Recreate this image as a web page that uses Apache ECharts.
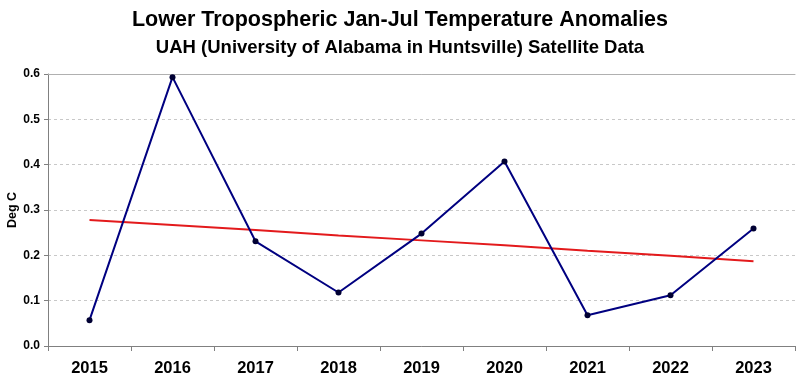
<!DOCTYPE html>
<html><head><meta charset="utf-8">
<script src="https://cdn.jsdelivr.net/npm/echarts@6/dist/echarts.min.js"></script>
<style>html,body{margin:0;padding:0;background:#fff}#c{width:800px;height:383px}</style>
</head><body><div id="c"></div>
<script>
const years = ['2015','2016','2017','2018','2019','2020','2021','2022','2023'];
const anomalies = [0.057, 0.593, 0.231, 0.118, 0.248, 0.407, 0.068, 0.112, 0.259];
const trend = [0.278, 0.267, 0.256, 0.244, 0.233, 0.222, 0.210, 0.199, 0.187];
const yTicks = [0, 0.1, 0.2, 0.3, 0.4, 0.5, 0.6];
const F = 'Liberation Sans, Arial, sans-serif';
const chart = echarts.init(document.getElementById('c'));
chart.setOption({
  animation: false,
  backgroundColor: '#fff',
  title: [
    {text: 'Lower Tropospheric Jan-Jul Temperature Anomalies', left: 'center', top: 4,
     textStyle: {fontFamily: F, fontWeight: 'bold', fontSize: 21.5, color: '#000'}},
    {text: 'UAH (University of Alabama in Huntsville) Satellite Data', left: 'center', top: 33,
     textStyle: {fontFamily: F, fontWeight: 'bold', fontSize: 18.5, color: '#000'}}
  ],
  graphic: [{
    type: 'text', x: 13, y: 210, rotation: Math.PI / 2,
    style: {text: 'Deg C', fontFamily: F, fontWeight: 'bold', fontSize: 12.5, fill: '#000',
      align: 'center', verticalAlign: 'middle'}
  }],
  grid: {left: 48, right: 5, top: 74, bottom: 37, outerBoundsMode: 'none', containLabel: false},
  xAxis: [{
    type: 'category', data: years, boundaryGap: true,
    axisLine: {lineStyle: {color: '#808080', width: 1}},
    axisTick: {show: true, alignWithLabel: false, length: 5, lineStyle: {color: '#808080'}},
    axisLabel: {fontFamily: F, fontWeight: 'bold', fontSize: 16.5, color: '#000', margin: 14},
    splitLine: {show: false}
  }, {
    type: 'category', data: years, position: 'top',
    axisLine: {show: true, lineStyle: {color: '#b0b0b0'}},
    axisTick: {show: false}, axisLabel: {show: false}
  }],
  yAxis: {
    type: 'value', min: 0, max: 0.6, interval: 0.1,
    axisLine: {show: true, lineStyle: {color: '#808080'}},
    axisTick: {show: true, length: 4, lineStyle: {color: '#808080'}},
    axisLabel: {fontFamily: F, fontWeight: 'bold', fontSize: 12, color: '#000', margin: 8,
      formatter: v => v.toFixed(1)},
    splitLine: {show: true, lineStyle: {color: '#c8c8c8', type: [3, 3], width: 1}}
  },
  series: [
    {type: 'line', data: trend, symbol: 'none',
     lineStyle: {color: '#e31a1c', width: 2}, z: 2},
    {type: 'line', data: anomalies, symbol: 'circle', symbolSize: 6,
     itemStyle: {color: '#000033'},
     lineStyle: {color: '#000080', width: 2}, z: 3}
  ]
});
</script></body></html>
